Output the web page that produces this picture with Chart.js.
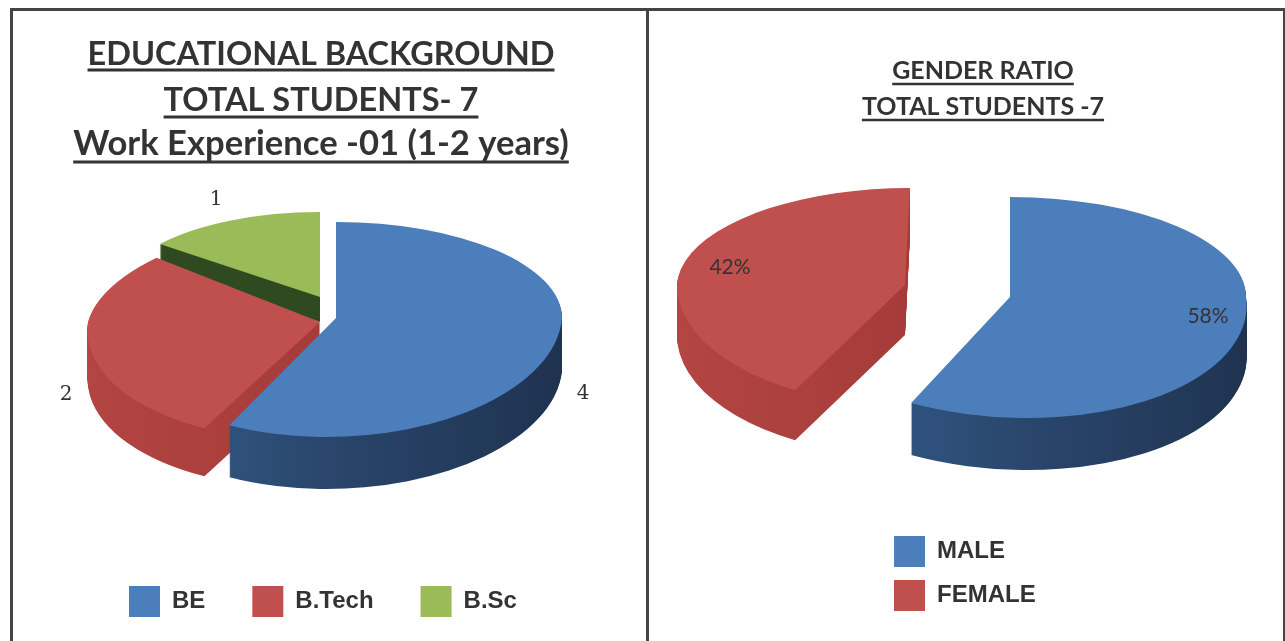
<!DOCTYPE html>
<html>
<head>
<meta charset="utf-8">
<style>
html,body{margin:0;padding:0;background:#fff;width:1285px;height:641px;overflow:hidden}
canvas{position:absolute;left:0;top:0}
.rule{position:absolute;background:#444}
</style>
<script src="https://cdn.jsdelivr.net/npm/chart.js@4/dist/chart.umd.js"></script>
</head>
<body>
<div class="rule" style="left:10px;top:8px;width:1275px;height:3px"></div>
<div class="rule" style="left:10px;top:8px;width:3px;height:633px"></div>
<div class="rule" style="left:646px;top:8px;width:3px;height:633px"></div>
<div class="rule" style="left:1283px;top:8px;width:2px;height:633px"></div>
<canvas id="left" width="1285" height="641"></canvas>
<canvas id="right" width="1285" height="641"></canvas>
<script>
// ---- data ----
const backgroundCategories = ['BE', 'B.Tech', 'B.Sc'];
const backgroundValues = [4, 2, 1];
const backgroundTitle = ['EDUCATIONAL BACKGROUND', 'TOTAL STUDENTS- 7'];
const backgroundSubtitle = 'Work Experience -01 (1-2 years)';
const genderCategories = ['MALE', 'FEMALE'];
const genderValues = [58, 42];
const genderTitle = ['GENDER RATIO', 'TOTAL STUDENTS -7'];

// ---- palette ----
const topColours = ['#4c7ebb', '#c0504d', '#9bbb59'];
const wallColours = [
  ['#33608f', '#2a466c', '#1f3350'],
  ['#b34542', '#a53c39', '#8f2f2d'],
  ['#2f4a20', '#2f4a20', '#2f4a20']
];
const inkColour = '#333333';

// ---- appearance of each pie (page pixels) ----
const leftLook = {
  order: [2, 1, 0],
  frames: [
    {cx: 336, cy: 318, rx: 226, up: 96, down: 119, shearUp: 0, shearDown: -0.08, depth: 52},
    {cx: 320, cy: 322, rx: 232, up: 103, down: 118, shearUp: -0.28, shearDown: -0.14, depth: 48},
    {cx: 320, cy: 297, rx: 205, up: 85, down: 85, shearUp: 0, shearDown: 0, depth: 25}
  ],
  labelSpots: [[216, 200], [66, 395], [583, 394]],
  labelOrder: [2, 1, 0],
  labelFont: '20px "DejaVu Serif"',
  suffix: '',
  titleCentre: 321, titleTop: 32, titleFont: 32.5, titleLine: 1.415,
  subtitleTop: 121, subtitleFont: 34.6, subtitleLine: 1.33,
  ruleWidth: 3, ruleYs: [70, 117, 162],
  legendLeft: 129, legendTop: 586
};
const rightLook = {
  order: [1, 0],
  frames: [
    {cx: 1010, cy: 297, rx: 236, up: 100, down: 121, shearUp: 0, shearDown: 0.14, depth: 52},
    {cx: 905, cy: 285, rx: 228, up: 97, down: 120, shearUp: -0.05, shearDown: 0, depth: 50}
  ],
  labelSpots: [[730, 267], [1208, 316]],
  labelOrder: [1, 0],
  labelFont: '21px Lato',
  suffix: '%',
  titleCentre: 983, titleTop: 53, titleFont: 25, titleLine: 1.44,
  ruleWidth: 2.5, ruleYs: [84, 120],
  legendLeft: 894, legendTop: 536
};

function paintArc(ctx, arc, f, drop, fill) {
  const R = arc.outerRadius;
  const saved = arc.options;
  const y0 = f.cy + drop;
  arc.options = Object.assign({}, saved, {backgroundColor: fill, borderWidth: 0});
  [[f.up, f.shearUp, 0, y0], [f.down, f.shearDown, y0, 641 - y0]].forEach(h => {
    ctx.save();
    ctx.beginPath();
    ctx.rect(0, h[2], 1285, h[3]);
    ctx.clip();
    ctx.transform(f.rx / R, 0, h[1] * h[0] / R, h[0] / R, f.cx, y0);
    ctx.translate(-arc.x, -arc.y);
    arc.draw(ctx);
    ctx.restore();
  });
  arc.options = saved;
}

function wallGradient(ctx, arc, stops) {
  const R = arc.outerRadius;
  const g = ctx.createLinearGradient(arc.x - R, 0, arc.x + R, 0);
  g.addColorStop(0, stops[0]);
  g.addColorStop(0.5, stops[1]);
  g.addColorStop(1, stops[2]);
  return g;
}

const tiltedPie = {
  id: 'tiltedPie',
  afterLayout(chart, args, look) {
    const t = chart.titleBlock;
    t.left = look.titleCentre - 320;
    t.right = look.titleCentre + 320;
    t.top = look.titleTop;
    const sub = chart.boxes.find(b => b !== t && b.options && b.options.text && b.options.display);
    if (sub) {
      sub.left = t.left;
      sub.right = t.right;
      sub.top = look.subtitleTop;
    }
    const lg = chart.legend;
    const p = lg.options.labels.padding;
    lg.left = look.legendLeft - p;
    lg.top = look.legendTop - p;
  },
  beforeDatasetDraw(chart, args, look) {
    const ctx = chart.ctx;
    const arcs = chart.getDatasetMeta(args.index).data;
    look.order.forEach(i => {
      const arc = arcs[i], f = look.frames[i];
      const wall = wallGradient(ctx, arc, wallColours[i]);
      for (let d = f.depth; d >= 1; d--) paintArc(ctx, arc, f, d, wall);
      paintArc(ctx, arc, f, 0, arc.options.backgroundColor);
    });
    return false;
  },
  afterDraw(chart, args, look) {
    const ctx = chart.ctx;
    ctx.save();
    // value labels
    ctx.fillStyle = inkColour;
    ctx.font = look.labelFont;
    ctx.textAlign = 'center';
    ctx.textBaseline = 'middle';
    look.labelOrder.forEach((idx, n) => {
      const s = look.labelSpots[n];
      ctx.fillText(chart.data.datasets[0].data[idx] + look.suffix, s[0], s[1]);
    });
    // title underlines
    const sub = chart.options.plugins.subtitle;
    const lines = chart.options.plugins.title.text.map(t => [t, look.titleFont]);
    if (sub.display) lines.push([sub.text, look.subtitleFont]);
    ctx.strokeStyle = inkColour;
    ctx.lineWidth = look.ruleWidth;
    lines.forEach((line, i) => {
      ctx.font = 'bold ' + line[1] + 'px Lato';
      const w = ctx.measureText(line[0]).width;
      ctx.beginPath();
      ctx.moveTo(look.titleCentre - w / 2, look.ruleYs[i]);
      ctx.lineTo(look.titleCentre + w / 2, look.ruleYs[i]);
      ctx.stroke();
    });
    ctx.restore();
  }
};

function makePie(id, labels, values, title, subtitle, look, legendPosition, pad) {
  return new Chart(document.getElementById(id), {
    type: 'pie',
    data: {
      labels: labels,
      datasets: [{
        data: values,
        backgroundColor: labels.map((l, i) => topColours[i]),
        borderWidth: 0
      }]
    },
    options: {
      responsive: false,
      animation: false,
      plugins: {
        tooltip: {enabled: false},
        title: {
          display: true,
          text: title,
          color: inkColour,
          padding: 0,
          font: {family: 'Lato', weight: 'bold', size: look.titleFont, lineHeight: look.titleLine}
        },
        subtitle: {
          display: !!subtitle,
          text: subtitle || '',
          color: inkColour,
          padding: 0,
          font: {family: 'Lato', weight: 'bold', size: look.subtitleFont || 12, lineHeight: look.subtitleLine || 1.2}
        },
        legend: {
          display: true,
          position: legendPosition,
          align: 'start',
          labels: {
            boxWidth: 31,
            boxHeight: 31,
            padding: pad,
            color: inkColour,
            font: {family: '"Liberation Sans"', weight: 'bold', size: 24}
          }
        },
        tiltedPie: look
      }
    },
    plugins: [tiltedPie]
  });
}

makePie('left', backgroundCategories, backgroundValues, backgroundTitle, backgroundSubtitle, leftLook, 'bottom', 47);
makePie('right', genderCategories, genderValues, genderTitle, null, rightLook, 'right', 13);
</script>
</body>
</html>
